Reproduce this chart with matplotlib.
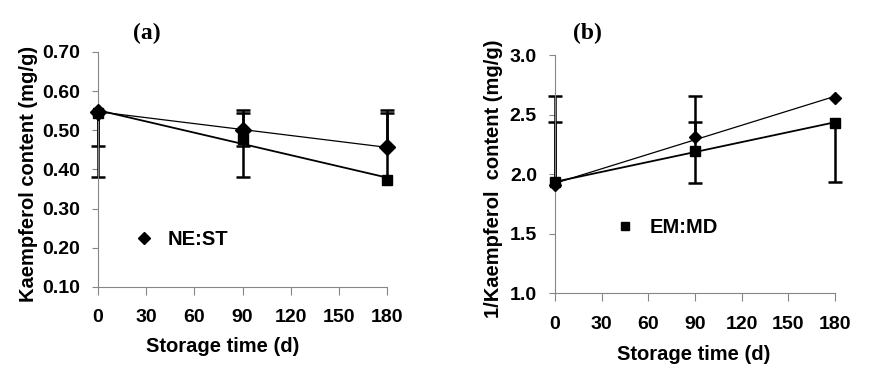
"""Kaempferol content vs storage time, two panels with linear trend lines."""
import numpy as np
import matplotlib
matplotlib.use("Agg")
import matplotlib.pyplot as plt
from matplotlib.lines import Line2D

plt.rcParams["font.family"] = ["Liberation Sans", "DejaVu Sans"]
plt.rcParams["font.weight"] = "bold"

days = np.array([0, 90, 180])
x_ticks = [0, 30, 60, 90, 120, 150, 180]

# panel (a): kaempferol content (mg/g)
a_nest = np.array([0.548, 0.501, 0.457])
a_emmd = np.array([0.545, 0.478, 0.373])
a_nest_lo = np.array([0.088, 0.041, 0.0])
a_nest_hi = np.array([0.0, 0.052, 0.096])
a_emmd_lo = np.array([0.165, 0.098, 0.0])
a_emmd_hi = np.array([0.0, 0.067, 0.172])
a_yticks = [0.10, 0.20, 0.30, 0.40, 0.50, 0.60, 0.70]

# panel (b): 1/kaempferol content
b_nest = np.array([1.91, 2.315, 2.64])
b_emmd = np.array([1.93, 2.197, 2.43])
b_nest_lo = np.array([0.0, 0.0, 0.0])
b_nest_hi = np.array([0.75, 0.345, 0.0])
b_emmd_lo = np.array([0.0, 0.27, 0.50])
b_emmd_hi = np.array([0.51, 0.24, 0.0])
b_yticks = [1.0, 1.5, 2.0, 2.5, 3.0]

GREY = "#868686"
TICK_FS = 14
LABEL_FS = 14.5


def draw_err(ax, x, y, lo, hi):
    """Excel 风格的单侧误差线：竖线加横帽。"""
    ax.vlines(x, y - lo, y + hi, color="black", lw=1.8, zorder=2, clip_on=False)
    for ends, err in ((y - lo, lo), (y + hi, hi)):
        m = err > 0
        ax.plot(x[m], ends[m], "_", color="black", ms=10, mew=1.8, zorder=2,
                clip_on=False)


def draw_panel(ax, nest, emmd, errs, ylim, yticks, fmt, ms_d, ms_s):
    xs = np.array([0, 180])
    for vals, lw in ((nest, 0.9), (emmd, 1.3)):
        k, b = np.polyfit(days, vals, 1)
        ax.plot(xs, k * xs + b, color="black", lw=lw, zorder=3, clip_on=False)
    for vals, (lo, hi) in zip((nest, emmd), errs):
        draw_err(ax, days, vals, lo, hi)
    ax.plot(days, nest, "D", color="black", ms=ms_d, zorder=4, ls="none", clip_on=False)
    ax.plot(days, emmd, "s", color="black", ms=ms_s, zorder=4, ls="none", clip_on=False)

    ax.set_xlim(0, 180)
    ax.set_ylim(*ylim)
    ax.set_xticks(x_ticks)
    ax.set_yticks(yticks)
    ax.set_yticklabels([fmt.format(v) for v in yticks])
    for side in ("top", "right"):
        ax.spines[side].set_visible(False)
    for side in ("left", "bottom"):
        ax.spines[side].set_color(GREY)
        ax.spines[side].set_linewidth(0.8)
    ax.tick_params(axis="x", length=6, width=0.8, color=GREY, pad=10, labelsize=TICK_FS)
    ax.tick_params(axis="y", length=4, width=0.8, color=GREY, pad=9, labelsize=TICK_FS)
    for lab in ax.get_xticklabels() + ax.get_yticklabels():
        lab.set_fontweight("bold")


fig = plt.figure(figsize=(8.73, 3.73), dpi=100)
ax_a = fig.add_axes([0.1123, 0.2306, 0.3310, 0.6300])
ax_b = fig.add_axes([0.6357, 0.2137, 0.3207, 0.6388])

draw_panel(ax_a, a_nest, a_emmd, [(a_nest_lo, a_nest_hi), (a_emmd_lo, a_emmd_hi)],
           (0.1, 0.7), a_yticks, "{:.2f}", 8, 7.5)
draw_panel(ax_b, b_nest, b_emmd, [(b_nest_lo, b_nest_hi), (b_emmd_lo, b_emmd_hi)],
           (1.0, 3.0), b_yticks, "{:.1f}", 6.5, 6.5)

ax_a.set_ylabel("Kaempferol content (mg/g)", fontsize=LABEL_FS, fontweight="bold")
ax_a.yaxis.set_label_coords(-0.208, 0.483)
ax_a.set_xlabel("Storage time (d)", fontsize=LABEL_FS, fontweight="bold")
ax_a.xaxis.set_label_coords(0.433, -0.213)

ax_b.set_ylabel("1/Kaempferol  content (mg/g)", fontsize=LABEL_FS, fontweight="bold")
ax_b.yaxis.set_label_coords(-0.186, 0.482)
ax_b.set_xlabel("Storage time (d)", fontsize=LABEL_FS, fontweight="bold")
ax_b.xaxis.set_label_coords(0.496, -0.217)

# 每个子图只显示一个图例条目
h_nest = Line2D([], [], marker="D", color="black", ls="none", ms=6.5)
h_emmd = Line2D([], [], marker="s", color="black", ls="none", ms=5.5)
ax_a.legend([h_nest], ["NE:ST"], loc="center left", bbox_to_anchor=(0.06, 0.203),
            frameon=False, handlelength=1.0, handletextpad=0.7,
            prop={"weight": "bold", "size": 14.5})
ax_b.legend([h_emmd], ["EM:MD"], loc="center left", bbox_to_anchor=(0.151, 0.275),
            frameon=False, handlelength=1.0, handletextpad=0.7,
            prop={"weight": "bold", "size": 14.5})

fig.text(147 / 873, 1 - 33 / 373, "(a)", family="Liberation Serif", weight="bold",
         fontsize=17, ha="center", va="center")
fig.text(587 / 873, 1 - 33 / 373, "(b)", family="Liberation Serif", weight="bold",
         fontsize=17, ha="center", va="center")

fig.savefig("out.png", dpi=100)
